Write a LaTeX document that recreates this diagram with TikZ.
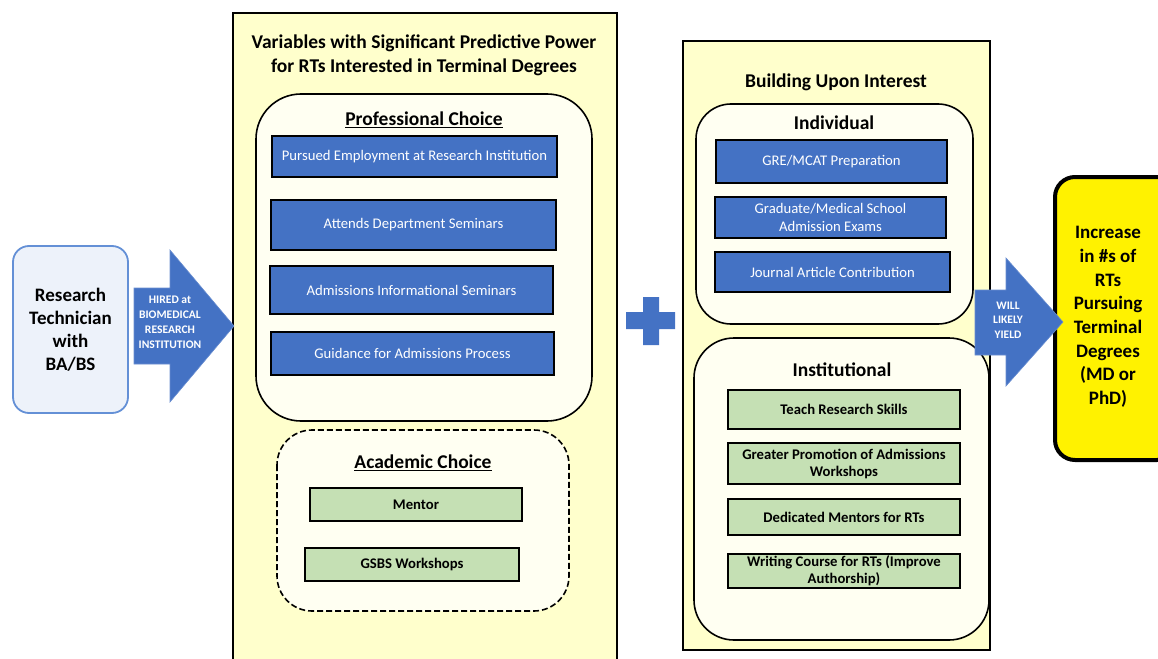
\documentclass[tikz,border=0pt]{standalone}
\usepackage{fontspec}
\setmainfont{Carlito}
\usepackage{tikz}

\definecolor{techfill}{RGB}{237,242,250}
\definecolor{techline}{RGB}{100,144,214}
\definecolor{accentblue}{RGB}{68,114,196}
\definecolor{panelyellow}{RGB}{255,255,204}
\definecolor{groupfill}{RGB}{255,255,242}
\definecolor{itemgreen}{RGB}{197,224,180}

\begin{document}
\begin{tikzpicture}[
  x=1pt, y=-1pt,
  panel/.style={draw, line width=1.6pt, fill=panelyellow},
  group/.style={draw, line width=1.6pt, fill=groupfill},
  heading/.style={align=center, font=\fontsize{19.5}{24}\selectfont\bfseries},
  bluebox/.style={draw, line width=2pt, fill=accentblue, text=white, align=center,
    inner sep=0pt, font=\fontsize{14.7}{18}\selectfont},
  greenbox/.style={draw, line width=2pt, fill=itemgreen, align=center,
    inner sep=0pt, font=\fontsize{14.7}{17}\selectfont\bfseries},
  bigarrow/.style={fill=accentblue, draw=accentblue!80!white, line width=0.6pt},
  arrowtext/.style={text=white, align=center, font=\fontsize{11.6}{15}\selectfont\bfseries}
]
\useasboundingbox (0,0) rectangle (1158,658);

% starting point
\node[draw=techline, line width=1.8pt, fill=techfill, rounded corners=16pt,
  minimum width=115pt, minimum height=167pt, align=center,
  font=\fontsize{19}{23}\selectfont\bfseries] (tech) at (70.5,329.5)
  {Research\\Technician\\with\\BA/BS};

% predictive variables
\draw[panel] (233,13) rectangle (617,668);
\node[heading] (vartitle) at (424,55)
  {Variables with Significant Predictive Power\\for RTs Interested in Terminal Degrees};

\draw[group, rounded corners=45pt] (256,94) rectangle (592,421);
\node[heading] (proftitle) at (424,120) {\underline{Professional Choice}};
\node[bluebox, minimum width=285pt, minimum height=41pt] (employ) at (414.5,156.5)
  {Pursued Employment at Research Institution};
\node[bluebox, minimum width=285pt, minimum height=50pt] (deptsem) at (413.5,225)
  {Attends Department Seminars};
\node[bluebox, minimum width=283pt, minimum height=48pt] (admsem) at (411.5,290)
  {Admissions Informational Seminars};
\node[bluebox, minimum width=283pt, minimum height=43pt] (guidance) at (412.5,353.5)
  {Guidance for Admissions Process};

\draw[group, dashed, dash pattern=on 6pt off 3pt, rounded corners=35pt] (277,430) rectangle (569,611);
\node[heading] (acadtitle) at (423,463) {\underline{Academic Choice}};
\node[greenbox, minimum width=212pt, minimum height=33pt] (mentor) at (416,504.5) {Mentor};
\node[greenbox, minimum width=214pt, minimum height=33pt] (gsbs) at (412,564.5) {GSBS Workshops};

% plus sign
\fill[accentblue] (626,312) -- (643,312) -- (643,297) -- (659,297) -- (659,312)
  -- (675,312) -- (675,329) -- (659,329) -- (659,345) -- (643,345) -- (643,329)
  -- (626,329) -- cycle;

% building upon interest
\draw[panel] (683,41) rectangle (990,650);
\node[heading] (buildtitle) at (836,82) {Building Upon Interest};

\draw[group, rounded corners=35pt] (696,104) rectangle (973,324);
\node[heading] (indivtitle) at (834,123) {Individual};
\node[bluebox, minimum width=231pt, minimum height=43pt] (gre) at (831.5,161.5)
  {GRE/MCAT Preparation};
\node[bluebox, minimum width=231pt, minimum height=41pt] (exams) at (830.5,217.5)
  {Graduate/Medical School\\Admission Exams};
\node[bluebox, minimum width=235pt, minimum height=40pt] (journal) at (832.5,272)
  {Journal Article Contribution};

\draw[group, rounded corners=40pt] (694,338) rectangle (989,640);
\node[heading] (insttitle) at (842,370) {Institutional};
\node[greenbox, minimum width=232pt, minimum height=39pt] (skills) at (844,409.5)
  {Teach Research Skills};
\node[greenbox, minimum width=232pt, minimum height=41pt] (promo) at (844,463.5)
  {Greater Promotion of Admissions\\Workshops};
\node[greenbox, minimum width=232pt, minimum height=36pt] (dedic) at (844,517)
  {Dedicated Mentors for RTs};
\node[greenbox, minimum width=232pt, minimum height=34pt] (writing) at (844,571)
  {Writing Course for RTs (Improve\\Authorship)};

% outcome
\node[draw, line width=4pt, fill=yellow, rounded corners=20pt, anchor=north west,
  minimum width=122pt, minimum height=283pt] (outcome) at (1053,175) {};
\node[align=center, font=\fontsize{19}{23.7}\selectfont\bfseries] (outtext) at (1108,317)
  {Increase\\in \#s of\\RTs\\Pursuing\\Terminal\\Degrees\\(MD or\\PhD)};

% block arrows
\draw[bigarrow] (134,288) -- (170,288) -- (170,250) -- (234,326) -- (170,402)
  -- (170,364) -- (134,364) -- cycle;
\node[arrowtext] (hired) at (170,322)
  {HIRED at\\BIOMEDICAL\\RESEARCH\\INSTITUTION};

\draw[bigarrow] (975,290) -- (1006,290) -- (1006,258) -- (1063,322) -- (1006,386)
  -- (1006,355) -- (975,355) -- cycle;
\node[arrowtext, font=\fontsize{11.5}{14.5}\selectfont\bfseries] (yield) at (1008,320)
  {WILL\\LIKELY\\YIELD};
\end{tikzpicture}
\end{document}
